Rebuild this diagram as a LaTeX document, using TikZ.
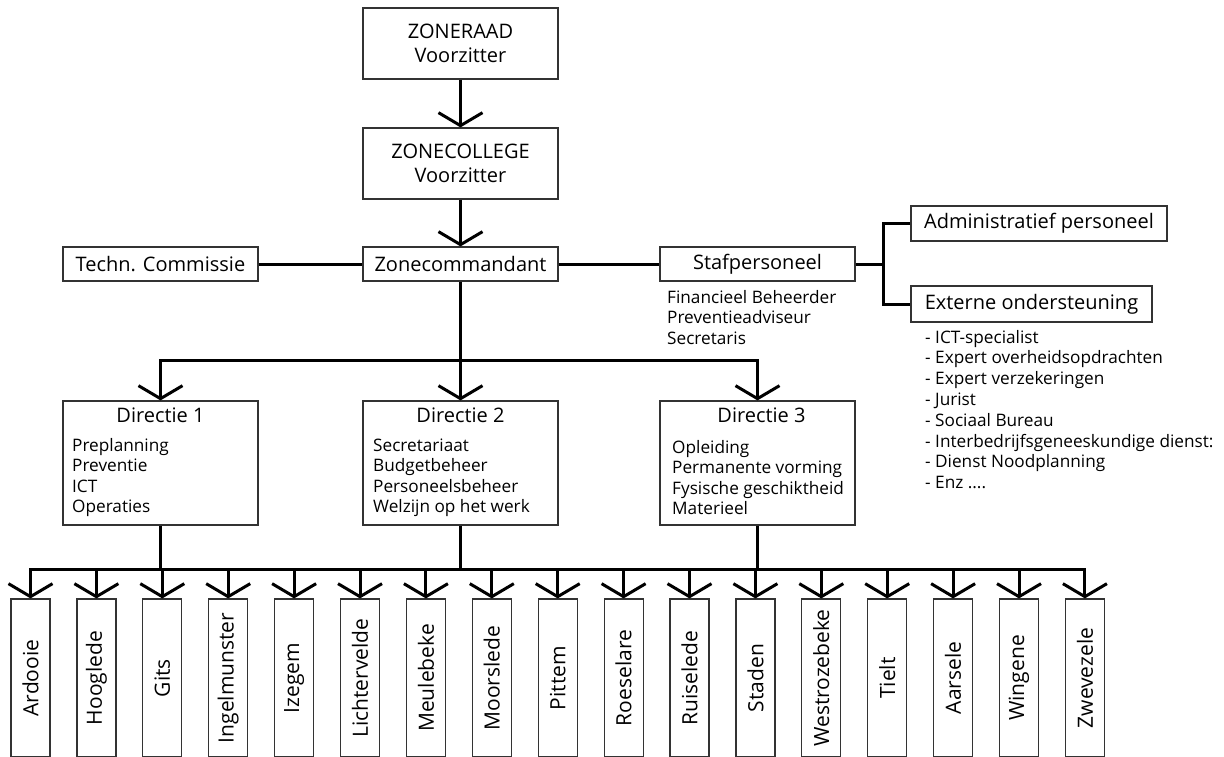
\documentclass[tikz,border=0pt]{standalone}
\usepackage{fontspec}
\setmainfont{Open Sans}
\usetikzlibrary{positioning,calc,arrows.meta}

\tikzset{
  orgbox/.style={draw=black!80, line width=1.2pt, minimum width=195, inner sep=0pt},
  conn/.style={line width=3pt, black},
  pijl/.style={-{Straight Barb[length=13pt,width=44pt]}},
  toptext/.style={font=\fontsize{20}{23.5}\selectfont, align=center},
  midtext/.style={font=\fontsize{20}{22}\selectfont},
  listtext/.style={font=\fontsize{17.2}{20.5}\selectfont, align=left, anchor=west, inner sep=0pt},
  gemeente/.style={draw=black!80, line width=1.2pt, minimum width=39, minimum height=158, inner sep=0pt},
}

\begin{document}
\begin{tikzpicture}[x=1pt,y=-1pt]
\useasboundingbox (0,0) rectangle (1224,756);

% bovenste niveaus
\node[orgbox, minimum height=71, toptext] (raad) at (460.5,43.5) {ZONERAAD\\Voorzitter};
\node[orgbox, minimum height=71, toptext] (college) at (460.5,163.5) {ZONECOLLEGE\\Voorzitter};
\node[orgbox, minimum height=34, midtext] (cmdt) at (460.5,264) {Zonecommandant};
\node[orgbox, minimum height=34, midtext] (techn) at (160.5,264) {Techn. Commissie};
\node[orgbox, minimum height=34, midtext] (staf) at (757.5,264) {Stafpersoneel};
\node[orgbox, minimum width=256, minimum height=35, font=\fontsize{20}{23}\selectfont] (admin) at (1039,223.5) {Administratief personeel};
\node[orgbox, minimum width=241, minimum height=36, font=\fontsize{20}{23}\selectfont] (ext) at (1031.5,304) {Externe ondersteuning};

\node[listtext] (staflijst) at (667,317.5) {Financieel Beheerder\\Preventieadviseur\\Secretaris};
\node[listtext, font=\fontsize{17.2}{20.8}\selectfont] (extlijst) at (925,409.5)
  {- ICT-specialist\\- Expert overheidsopdrachten\\- Expert verzekeringen\\- Jurist\\- Sociaal Bureau\\- Interbedrijfsgeneeskundige dienst:\\- Dienst Noodplanning\\- Enz ....};

\draw[conn, pijl] (raad) -- (college);
\draw[conn, pijl] (college) -- (cmdt);
\draw[conn] (techn) -- (cmdt);
\draw[conn] (cmdt) -- (staf);
\coordinate (tak) at (883,264);
\draw[conn] (staf) -- (tak);
\draw[conn] (admin.west) -| (tak) |- (ext.west);

% directies
\node[orgbox, minimum height=124] (d1) at (160.5,463) {};
\node[orgbox, minimum height=124] (d2) at (460.5,463) {};
\node[orgbox, minimum height=124] (d3) at (757.5,463) {};
\node[midtext] (d1t) at (160.5,415) {Directie 1};
\node[midtext] (d2t) at (460.5,415) {Directie 2};
\node[midtext] (d3t) at (761.5,415) {Directie 3};
\node[listtext] (d1l) at (72,477.5) {Preplanning\\Preventie\\ICT\\Operaties};
\node[listtext] (d2l) at (373,477.5) {Secretariaat\\Budgetbeheer\\Personeelsbeheer\\Welzijn op het werk};
\node[listtext] (d3l) at (672,477.5) {Opleiding\\Permanente vorming\\Fysische geschiktheid\\Materieel};

\coordinate (split) at (460.5,360);
\draw[conn, pijl] (cmdt) -- (d2);
\draw[conn, pijl] (split) -| (d1);
\draw[conn, pijl] (split) -| (d3);

% gemeenten
\foreach \naam [count=\i] in {Ardooie,Hooglede,Gits,Ingelmunster,Izegem,Lichtervelde,Meulebeke,Moorslede,Pittem,Roeselare,Ruiselede,Staden,Westrozebeke,Tielt,Aarsele,Wingene,Zwevezele}
{
  \node[gemeente] (g\i) at ({30.5+65.9*(\i-1)},678) {};
  \node[rotate=90, font=\fontsize{21}{22}\selectfont] (g\i t) at (g\i) {\naam};
  \draw[conn, pijl] (g\i |- 0,569) -- (g\i);
}
\coordinate (bus) at (460.5,569);
\draw[conn, line cap=rect] (g1 |- bus) -- (g17 |- bus);
\draw[conn] (d1) -- (d1 |- bus);
\draw[conn] (d2) -- (d2 |- bus);
\draw[conn] (d3) -- (d3 |- bus);

\end{tikzpicture}
\end{document}
